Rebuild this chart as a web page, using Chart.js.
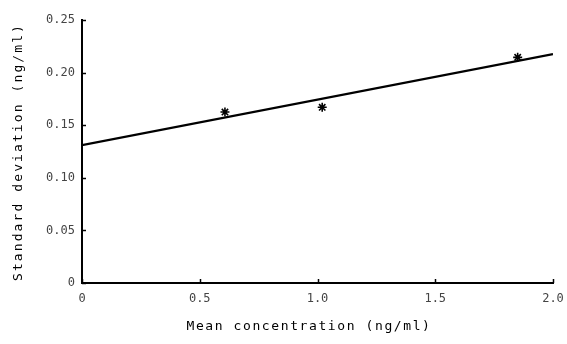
<!DOCTYPE html>
<html><head><meta charset="utf-8">
<script src="https://cdn.jsdelivr.net/npm/chart.js@4/dist/chart.umd.min.js"></script>
<style>html,body{margin:0;padding:0;background:#fff}#wrap{width:567px;height:344px}</style>
</head><body><div id="wrap"><canvas id="c" width="567" height="344"></canvas></div>
<script>
const pointX = [0.607, 1.02, 1.85];
const pointY = [0.1625, 0.167, 0.2145];
const lineX = [0, 2.0];
const lineY = [0.131, 0.2175];
const xTickValues = [0, 0.5, 1.0, 1.5, 2.0];
const xTickLabels = ['0', '0.5', '1.0', '1.5', '2.0'];
const yTickValues = [0, 0.05, 0.10, 0.15, 0.20, 0.25];
const yTickLabels = ['0', '0.05', '0.10', '0.15', '0.20', '0.25'];
const xTitle = 'Mean concentration (ng/ml)';
const yTitle = 'Standard deviation (ng/ml)';

const MONO = '"DejaVu Sans Mono", "Liberation Mono", monospace';

const axisDecor = {
  id: 'axisDecor',
  afterDraw(chart) {
    const ctx = chart.ctx, xs = chart.scales.x, ys = chart.scales.y;
    const a = chart.chartArea;
    ctx.save();
    ctx.strokeStyle = '#000';
    ctx.lineWidth = 1.5;
    xTickValues.forEach(v => {
      const px = Math.round(xs.getPixelForValue(v)) + 0.5;
      ctx.beginPath(); ctx.moveTo(px, a.bottom); ctx.lineTo(px, a.bottom - 4); ctx.stroke();
    });
    yTickValues.forEach(v => {
      const py = Math.round(ys.getPixelForValue(v)) + 0.5;
      ctx.beginPath(); ctx.moveTo(a.left, py); ctx.lineTo(a.left + 4, py); ctx.stroke();
    });
    ctx.fillStyle = '#000';
    ctx.font = '13px ' + MONO;
    ctx.textAlign = 'center';
    ctx.textBaseline = 'middle';
    ctx.letterSpacing = '1.6px';
    ctx.fillText(xTitle, 309, 327);
    ctx.letterSpacing = '2.1px';
    ctx.translate(19, 152);
    ctx.rotate(-Math.PI / 2);
    ctx.fillText(yTitle, 0, 0);
    ctx.restore();
  }
};

new Chart(document.getElementById('c'), {
  data: {
    datasets: [
      {
        type: 'line',
        data: lineX.map((x, i) => ({x, y: lineY[i]})),
        borderColor: '#000',
        borderWidth: 2.2,
        pointRadius: 0,
        fill: false,
        tension: 0
      },
      {
        type: 'scatter',
        data: pointX.map((x, i) => ({x, y: pointY[i]})),
        pointStyle: 'star',
        pointRadius: 4.5,
        borderColor: '#000',
        backgroundColor: '#000',
        pointBorderWidth: 1.6
      }
    ]
  },
  options: {
    responsive: false,
    animation: false,
    layout: { padding: { top: 20, right: 14, left: 0, bottom: 0 } },
    plugins: { legend: { display: false }, tooltip: { enabled: false } },
    scales: {
      x: {
        type: 'linear', min: 0, max: 2.0,
        afterFit(s) { s.height = 61; s.paddingLeft = 0; s.paddingRight = 0; },
        afterBuildTicks(s) { s.ticks = xTickValues.map(v => ({value: v})); },
        grid: { display: false, drawTicks: false },
        border: { display: true, color: '#000', width: 2 },
        ticks: {
          color: '#444', padding: 9,
          font: { family: MONO, size: 12 },
          maxRotation: 0, autoSkip: false,
          callback: (v) => xTickLabels[xTickValues.indexOf(v)] ?? ''
        }
      },
      y: {
        type: 'linear', min: 0, max: 0.25,
        afterFit(s) { s.width = 82; s.paddingTop = 0; s.paddingBottom = 0; },
        afterBuildTicks(s) { s.ticks = yTickValues.map(v => ({value: v})); },
        grid: { display: false, drawTicks: false },
        border: { display: true, color: '#000', width: 2 },
        ticks: {
          color: '#444', padding: 7,
          font: { family: MONO, size: 12 },
          autoSkip: false,
          callback: (v) => {
            const i = yTickValues.findIndex(t => Math.abs(t - v) < 1e-9);
            return i >= 0 ? yTickLabels[i] : '';
          }
        }
      }
    }
  },
  plugins: [axisDecor]
});
</script></body></html>
